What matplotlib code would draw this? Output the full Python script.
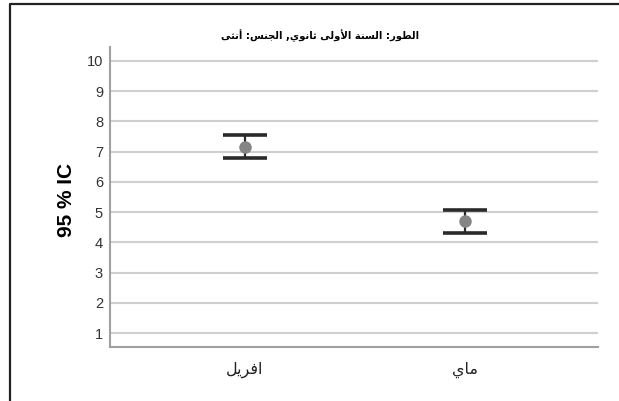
import numpy as np
import matplotlib.pyplot as plt
from matplotlib.lines import Line2D

# ------------------------ 95% CI per month ------------------------

months = ["افريل", "ماي"]
means = [7.16, 4.70]
ci_low = [6.78, 4.32]
ci_high = [7.55, 5.08]
title = "الطور: السنة الأولى ثانوي, الجنس: أنثى"
ylabel = "95 % IC"
yticks = list(range(1, 11))

# arabic presentation forms: (isolated, final, initial, medial)
FORMS = {
   'ا': ('\uFE8D', '\uFE8E', None, None),
   'أ': ('\uFE83', '\uFE84', None, None),
   'ل': ('\uFEDD', '\uFEDE', '\uFEDF', '\uFEE0'),
   'ط': ('\uFEC1', '\uFEC2', '\uFEC3', '\uFEC4'),
   'و': ('\uFEED', '\uFEEE', None, None),
   'ر': ('\uFEAD', '\uFEAE', None, None),
   'س': ('\uFEB1', '\uFEB2', '\uFEB3', '\uFEB4'),
   'ن': ('\uFEE5', '\uFEE6', '\uFEE7', '\uFEE8'),
   'ة': ('\uFE93', '\uFE94', None, None),
   'ى': ('\uFEEF', '\uFEF0', None, None),
   'ث': ('\uFE99', '\uFE9A', '\uFE9B', '\uFE9C'),
   'ي': ('\uFEF1', '\uFEF2', '\uFEF3', '\uFEF4'),
   'ج': ('\uFE9D', '\uFE9E', '\uFE9F', '\uFEA0'),
   'ف': ('\uFED1', '\uFED2', '\uFED3', '\uFED4'),
   'م': ('\uFEE1', '\uFEE2', '\uFEE3', '\uFEE4'),
}
LAM_ALEF = {'ا': ('\uFEFB', '\uFEFC'), 'أ': ('\uFEF7', '\uFEF8')}

# joins letters and flips to visual order, since matplotlib does no shaping
def shape(s):
   out = []
   i = 0
   while i < len(s):
      c = s[i]
      if c not in FORMS:
         out.append(c)
         i += 1
         continue
      prev = s[i-1] if i > 0 else ''
      prevJoins = prev in FORMS and FORMS[prev][2] is not None
      if c == 'ل' and i+1 < len(s) and s[i+1] in LAM_ALEF:
         out.append(LAM_ALEF[s[i+1]][1 if prevJoins else 0])
         i += 2
         continue
      nxt = s[i+1] if i+1 < len(s) else ''
      nextJoins = nxt in FORMS
      iso, fin, ini, med = FORMS[c]
      if prevJoins and nextJoins and med:
         out.append(med)
      elif prevJoins:
         out.append(fin)
      elif nextJoins and ini:
         out.append(ini)
      else:
         out.append(iso)
      i += 1
   return ''.join(out)[::-1]


fig = plt.figure(figsize=(6.19, 4.01), dpi=100)
ax = fig.add_axes([110/619, 1-346.7/401, 488/619, 300/401])

x = np.arange(len(months))
m = np.array(means)
err = [m-np.array(ci_low), np.array(ci_high)-m]

ax.errorbar(x, m, yerr=err, fmt='none', ecolor='#2a2a2a', elinewidth=1.6,
            capsize=16, capthick=2.6, zorder=3)
ax.plot(x, m, 'o', color='#858585', markersize=8, zorder=4)

ax.set_xlim(-0.614, 1.605)
ax.set_ylim(0.547, 10.473)
ax.set_yticks(yticks)
ax.set_yticklabels([str(t) for t in yticks], family='Liberation Sans', fontsize=10.5, color='#333333')
ax.set_xticks(x)
ax.set_xticklabels([shape(mo) for mo in months], family='DejaVu Sans', fontsize=11.5, color='#222222')
ax.tick_params(axis='both', length=0)
ax.tick_params(axis='y', pad=5)
ax.tick_params(axis='x', pad=11)

ax.grid(axis='y', color='#cfcfcf', linewidth=1.5)
ax.set_axisbelow(True)
for side in ['top', 'right']:
   ax.spines[side].set_visible(False)
for side in ['left', 'bottom']:
   ax.spines[side].set_color('#a0a0a0')
   ax.spines[side].set_linewidth(1.5)

ax.set_ylabel(ylabel, family='Liberation Sans', fontweight='bold', fontsize=15)
ax.yaxis.set_label_coords(-0.07, 0.49)

fig.text(320/619, 1-36/401, shape(title), ha='center', va='center',
         family='DejaVu Sans', fontweight='bold', fontsize=7.2)

# frame around the chart area
fig.add_artist(Line2D([10/619, 10/619, 1], [0, 1-3.5/401, 1-3.5/401],
                      transform=fig.transFigure, color='#222222', linewidth=1.6))

fig.savefig('out.png', dpi=100)
